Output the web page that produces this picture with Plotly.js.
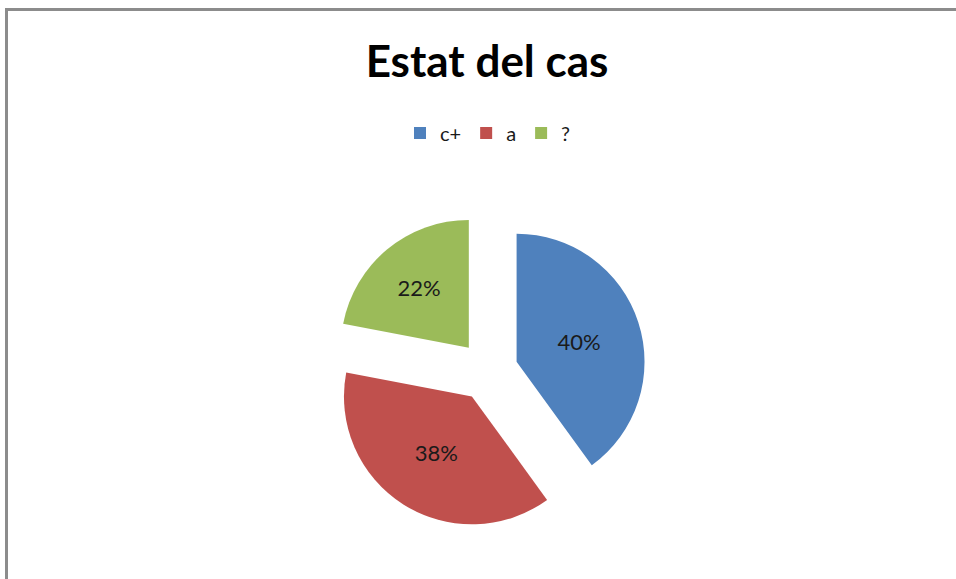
<!DOCTYPE html>
<html>
<head>
<meta charset="utf-8">
<script src="https://cdn.plot.ly/plotly-3.0.1.min.js"></script>
<style>
  html, body { margin: 0; padding: 0; background: #fff; overflow: hidden; }
  #wrap { position: relative; width: 956px; height: 579px; }
  #chart { width: 956px; height: 579px; }
  #frame { position: absolute; left: 5px; top: 8px; width: 1000px; height: 700px;
           border-left: 3px solid #8c8c8c; border-top: 3px solid #8c8c8c; pointer-events: none; }
</style>
</head>
<body>
<div id="wrap">
  <div id="chart"></div>
  <div id="frame"></div>
</div>
<script>
const categories = ['c+', 'a', '?'];
const values = [40, 38, 22];
const colors = ['#4F81BD', '#C0504D', '#9BBB59'];

const trace = {
  type: 'pie',
  labels: categories,
  values: values,
  sort: false,
  direction: 'clockwise',
  rotation: 0,
  pull: [0.235, 0.235, 0.235],
  marker: { colors: colors, line: { width: 0 } },
  textinfo: 'percent',
  texttemplate: '%{percent:.0%}',
  textposition: 'inside',
  insidetextorientation: 'horizontal',
  textfont: { family: 'Lato, "Open Sans", sans-serif', size: 22, color: '#1a1a1a' },
  hoverinfo: 'none',
  domain: { x: [330/956, 646/956], y: [50/579, 366/579] }
};

const layout = {
  width: 956, height: 579,
  margin: { l: 0, r: 0, t: 0, b: 0 },
  paper_bgcolor: '#ffffff',
  title: {
    text: '<b>Estat del cas</b>',
    x: 487/956, xanchor: 'center',
    y: 1 - 62/579, yanchor: 'middle',
    font: { family: 'Lato, "Open Sans", sans-serif', size: 44, color: '#000000' }
  },
  showlegend: true,
  legend: {
    orientation: 'h',
    x: 488/956, xanchor: 'center',
    y: 1 - 133/579, yanchor: 'middle',
    font: { family: 'Lato, "Open Sans", sans-serif', size: 20, color: '#1a1a1a' },
    itemwidth: 30,
    traceorder: 'normal'
  }
};

Plotly.newPlot('chart', [trace], layout, { displayModeBar: false, staticPlot: true });
</script>
</body>
</html>
